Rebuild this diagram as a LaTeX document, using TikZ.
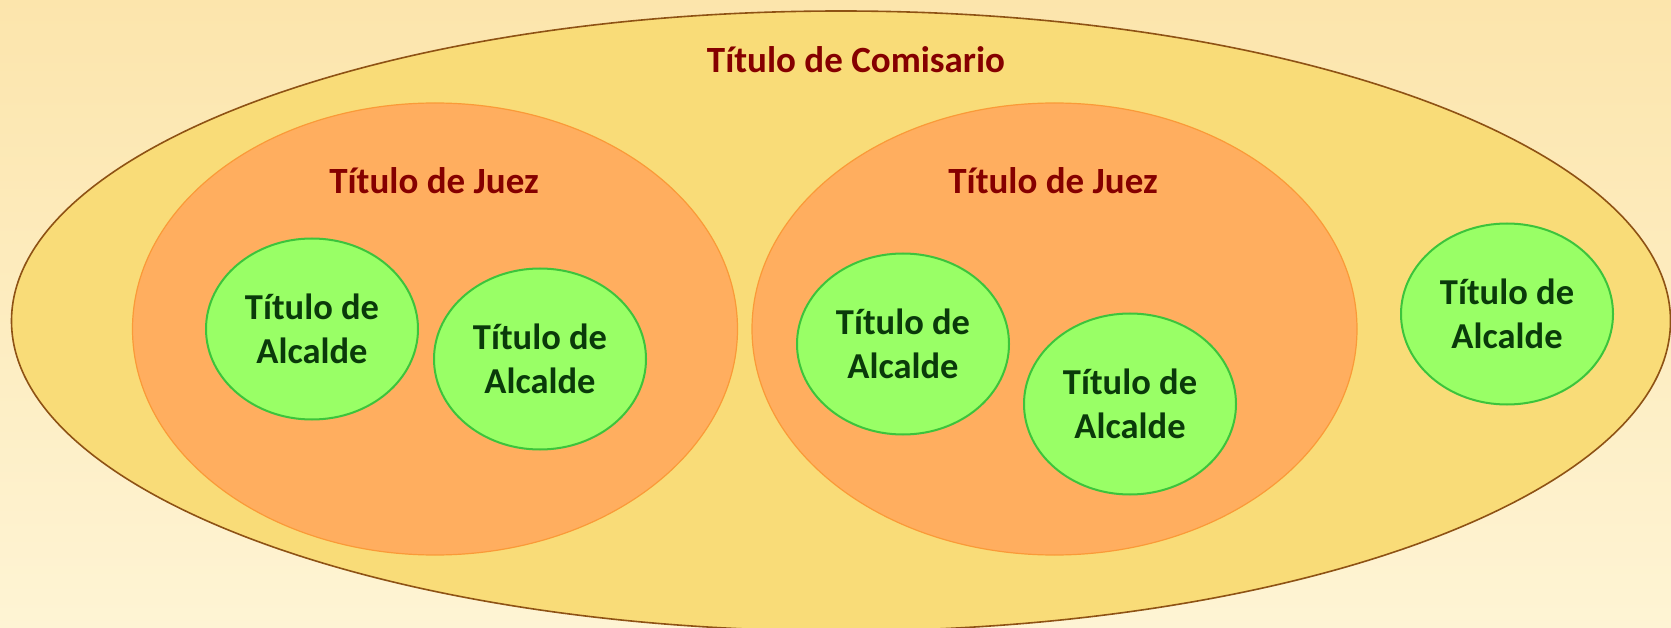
\documentclass[tikz,border=0pt]{standalone}
\usepackage{fontspec}
\setmainfont{Carlito}
\usetikzlibrary{shapes.geometric}
\definecolor{bgtop}{HTML}{FCE5AC}
\definecolor{bgbot}{HTML}{FEF4D4}
\definecolor{outerfill}{HTML}{F9DC78}
\definecolor{outerdraw}{HTML}{8E5214}
\definecolor{juezfill}{HTML}{FFAE5F}
\definecolor{juezdraw}{HTML}{FA9A38}
\definecolor{alcfill}{HTML}{99FF66}
\definecolor{alcdraw}{HTML}{3CC43C}
\definecolor{redtext}{HTML}{850000}
\definecolor{greentext}{HTML}{0A3A0A}
\tikzset{
  outerell/.style={ellipse, draw=outerdraw, fill=outerfill, line width=1.6pt, inner sep=0pt},
  juezell/.style={ellipse, draw=juezdraw, fill=juezfill, line width=1.2pt, inner sep=0pt, minimum width=605pt, minimum height=452pt},
  alcell/.style={ellipse, draw=alcdraw, fill=alcfill, line width=2pt, inner sep=0pt, minimum width=212pt, minimum height=181pt,
    align=center, text=greentext, font=\fontsize{36.5}{43.5}\selectfont\bfseries},
  titlered/.style={text=redtext, font=\fontsize{37}{44}\selectfont\bfseries, inner sep=0pt, anchor=base}
}
\begin{document}
\begin{tikzpicture}[x=1pt,y=-1pt]
\shade[top color=bgtop,bottom color=bgbot] (0,0) rectangle (1671,628);
\useasboundingbox (0,0) rectangle (1671,628);
\node[outerell, minimum width=1659pt, minimum height=620pt] (com) at (841,321) {};
\node[juezell] (j1) at (435,329) {};
\node[juezell] (j2) at (1054.5,329) {};
\node[alcell] (a1) at (312,329) {Título de\\Alcalde};
\node[alcell] (a2) at (540,359) {Título de\\Alcalde};
\node[alcell] (a3) at (903,344) {Título de\\Alcalde};
\node[alcell] (a4) at (1130,404) {Título de\\Alcalde};
\node[alcell] (a5) at (1507,314) {Título de\\Alcalde};
\node[titlered] (tc) at (856,72.5) {Título de Comisario};
\node[titlered] (tj1) at (434,194) {Título de Juez};
\node[titlered] (tj2) at (1053,194) {Título de Juez};
\end{tikzpicture}
\end{document}
